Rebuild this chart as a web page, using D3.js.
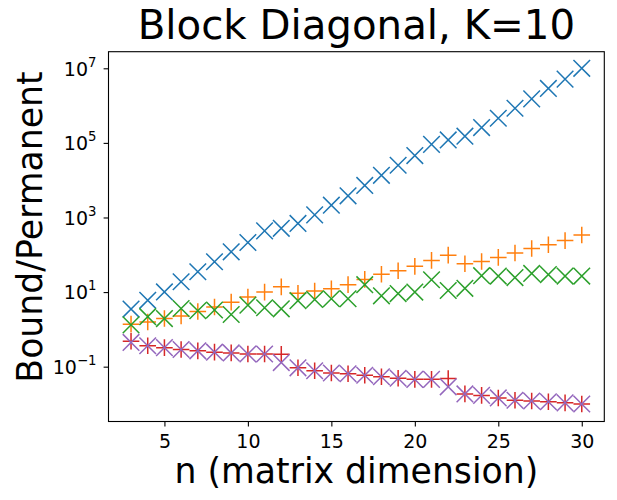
<!DOCTYPE html>
<html>
<head>
<meta charset="utf-8">
<script src="https://cdn.jsdelivr.net/npm/d3@7"></script>
<style>
  body { margin: 0; background: #fff; }
  text { font-family: "DejaVu Sans", sans-serif; }
</style>
</head>
<body>
<svg id="chart"></svg>
<script>
var nValues = d3.range(3, 31)

var series1 = [3.5, 6.0, 10.1, 18.9, 35, 65, 120, 214, 437, 513, 692, 1175, 2138, 3802,
  7244, 13490, 25120, 45710, 91200, 120200, 151400, 257000, 457100, 851100,
  1514000, 2884000, 5129000, 10000000]
var series2 = [1.38, 1.58, 1.95, 2.29, 3.02, 3.98, 5.37, 7.41, 10.0, 13.8, 9.33, 10.7, 12.3,
  15.8, 21.9, 30.2, 37.2, 49.0, 70.8, 97.7, 57.5, 66.1, 85.1, 112, 148, 186, 240, 339]
var series3 = [1.32, 2.19, 1.95, 3.63, 3.16, 3.31, 2.51, 4.47, 3.80, 3.55, 5.89, 6.31, 6.61,
  6.61, 15.8, 7.94, 9.12, 10.0, 21.4, 11.0, 12.6, 27.5, 26.9, 24.5, 31.6, 29.5, 26.9, 26.9]
var series4 = [0.479, 0.363, 0.324, 0.288, 0.266, 0.245, 0.234, 0.219, 0.219, 0.214, 0.0933,
  0.0776, 0.0676, 0.0646, 0.0589, 0.0537, 0.0490, 0.0457, 0.0457, 0.0479, 0.0186, 0.0170,
  0.0145, 0.0126, 0.0120, 0.0115, 0.0107, 0.0100]
var series5 = [0.447, 0.363, 0.324, 0.288, 0.266, 0.245, 0.234, 0.219, 0.219, 0.129, 0.0933,
  0.0776, 0.0676, 0.0646, 0.0589, 0.0537, 0.0490, 0.0457, 0.0457, 0.0288, 0.0186, 0.0170,
  0.0145, 0.0126, 0.0120, 0.0115, 0.0107, 0.0100]

var xTicks = [5, 10, 15, 20, 25, 30]
var yTickExponents = [-1, 1, 3, 5, 7]

var dimensions = {
  width: 617,
  height: 500,
  margin: { top: 51.7, bottom: 78.5, left: 108.5, right: 12.7 }
}

var seriesList = [
  { values: series1, color: "#1f77b4", marker: "x" },
  { values: series2, color: "#ff7f0e", marker: "+" },
  { values: series3, color: "#2ca02c", marker: "x" },
  { values: series4, color: "#d62728", marker: "+" },
  { values: series5, color: "#9467bd", marker: "x" }
]

var svg = d3.select("#chart")
  .attr("width", dimensions.width)
  .attr("height", dimensions.height)

var xScale = d3.scaleLinear()
  .domain([1.65, 31.35])
  .range([dimensions.margin.left, dimensions.width - dimensions.margin.right])

var yScale = d3.scaleLog()
  .domain([Math.pow(10, -2.47), Math.pow(10, 7.445)])
  .range([dimensions.height - dimensions.margin.bottom, dimensions.margin.top])

// markers
var half = 8.3
var markerPath = {
  "x": `M${-half},${-half}L${half},${half}M${-half},${half}L${half},${-half}`,
  "+": `M${-half},0L${half},0M0,${-half}L0,${half}`
}

seriesList.forEach(function (s) {
  svg.append("g")
    .selectAll("path")
    .data(nValues)
    .enter()
    .append("path")
    .attr("transform", (d, i) => `translate(${xScale(d)},${yScale(s.values[i])})`)
    .attr("d", markerPath[s.marker])
    .attr("fill", "none")
    .attr("stroke", s.color)
    .attr("stroke-width", 1.5)
})

// axes
var xAxisGen = d3.axisBottom(xScale)
  .tickValues(xTicks)
  .tickSize(4.9)
  .tickPadding(4.9)
  .tickSizeOuter(0)

var xAxis = svg.append("g")
  .attr("transform", `translate(0,${dimensions.height - dimensions.margin.bottom})`)
  .call(xAxisGen)
xAxis.select(".domain").remove()
xAxis.selectAll("text")
  .attr("font-size", 19)
  .attr("font-family", "DejaVu Sans")
  .attr("fill", "#000")
  .attr("dy", "0.9em")

var yAxisGen = d3.axisLeft(yScale)
  .tickValues(yTickExponents.map(e => Math.pow(10, e)))
  .tickSize(4.9)
  .tickFormat("")
  .tickSizeOuter(0)

var yAxis = svg.append("g")
  .attr("transform", `translate(${dimensions.margin.left},0)`)
  .call(yAxisGen)
yAxis.select(".domain").remove()

var yLabels = svg.append("g")
  .selectAll("text")
  .data(yTickExponents)
  .enter()
  .append("text")
  .attr("x", 96.5)
  .attr("y", d => yScale(Math.pow(10, d)) + 7.4)
  .attr("text-anchor", "end")
  .attr("font-size", 19)
  .attr("fill", "#000")
yLabels.append("tspan").text("10")
yLabels.append("tspan")
  .attr("dy", -9)
  .attr("font-size", 13.3)
  .text(d => d < 0 ? "\u2212" + Math.abs(d) : String(d))

svg.selectAll(".tick line").attr("stroke", "#000").attr("stroke-width", 1.1)

// frame
svg.append("rect")
  .attr("x", dimensions.margin.left)
  .attr("y", dimensions.margin.top)
  .attr("width", dimensions.width - dimensions.margin.left - dimensions.margin.right)
  .attr("height", dimensions.height - dimensions.margin.top - dimensions.margin.bottom)
  .attr("fill", "none")
  .attr("stroke", "#000")
  .attr("stroke-width", 1.1)

// titles
var centerX = (dimensions.margin.left + dimensions.width - dimensions.margin.right) / 2

svg.append("text")
  .attr("x", centerX)
  .attr("y", 39.3)
  .attr("text-anchor", "middle")
  .attr("font-size", 40.3)
  .text("Block Diagonal, K=10")

svg.append("text")
  .attr("x", centerX)
  .attr("y", 483.3)
  .attr("text-anchor", "middle")
  .attr("font-size", 34.7)
  .text("n (matrix dimension)")

svg.append("text")
  .attr("transform", `translate(41.5,227) rotate(-90)`)
  .attr("text-anchor", "middle")
  .attr("font-size", 34.7)
  .text("Bound/Permanent")
</script>
</body>
</html>
